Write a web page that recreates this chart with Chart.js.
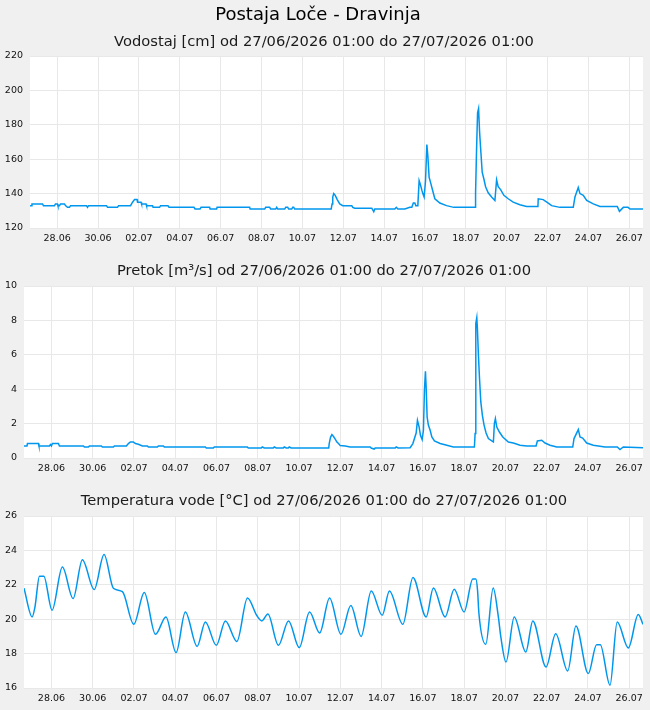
<!DOCTYPE html>
<html><head><meta charset="utf-8">
<script src="https://cdn.jsdelivr.net/npm/chart.js@4/dist/chart.umd.min.js"></script>
<style>
html,body{margin:0;padding:0;background:#f0f0f0;}
#wrap{position:relative;width:650px;height:710px;background:#f0f0f0;}
canvas{position:absolute;left:0;}
</style></head><body>
<div id="wrap">
<canvas id="c1" width="650" height="250" style="top:0px"></canvas>
<canvas id="c2" width="650" height="230" style="top:250px"></canvas>
<canvas id="c3" width="650" height="230" style="top:480px"></canvas>
</div>
<script>
// ---- text ----
const mainTitle = "Postaja Loče - Dravinja";
const panelTitles = [
  "Vodostaj [cm] od 27/06/2026 01:00 do 27/07/2026 01:00",
  "Pretok [m³/s] od 27/06/2026 01:00 do 27/07/2026 01:00",
  "Temperatura vode [°C] od 27/06/2026 01:00 do 27/07/2026 01:00"
];
// x axis: days since 27.06 00:00
const tickDays = [1,3,5,7,9,11,13,15,17,19,21,23,25,27,29];
const tickLabels = ["28.06","30.06","02.07","04.07","06.07","08.07","10.07","12.07","14.07","16.07","18.07","20.07","22.07","24.07","26.07"];

// ---- Vodostaj [cm] ----
const vodostajDays = [-0.33,-0.259,-0.234,0.280,0.329,0.868,0.917,1.015,1.039,1.113,1.162,1.358,1.407,1.504,1.603,1.652,2.435,2.484,2.533,3.415,3.464,3.954,4.003,4.591,4.689,4.787,4.909,4.934,5.105,5.130,5.350,5.374,5.668,5.693,6.011,6.060,6.423,6.472,7.697,7.746,7.992,8.042,8.461,8.485,8.803,8.828,10.420,10.444,11.155,11.204,11.400,11.449,11.694,11.743,11.792,12.135,12.184,12.282,12.331,12.478,12.527,12.576,12.625,14.412,14.452,14.486,14.535,14.608,14.706,14.829,14.976,15.417,15.466,15.564,16.397,16.494,16.543,17.523,17.597,17.670,18.013,18.258,18.356,18.430,18.503,18.552,18.650,18.714,18.782,18.846,18.895,18.959,19.027,19.091,19.140,19.203,19.272,19.350,19.483,19.728,20.055,20.413,21.456,21.476,21.525,21.574,21.623,21.672,21.736,21.800,21.883,21.966,22.094,22.260,22.422,22.505,22.583,22.701,22.862,23.073,23.318,23.646,23.974,24.528,24.543,24.787,25.032,25.199,25.605,26.257,26.340,26.502,26.585,26.747,26.913,27.237,27.565,28.412,28.518,28.707,28.937,29.035,29.67];
const vodostajValues = [133,133,134,134,133,133,134,134,133,133,134,134,133,132,132,133,133,132,133,133,132,132,133,133,135,136.5,136.5,135,135,134,134,133,133,132,132,133,133,132,132,131,131,132,132,131,131,132,132,131,131,132,132,131,131,132,131,131,132,132,131,131,132,132,131,131,134,138,140,139,136.5,134,133,133,132,131.5,131.5,129.5,131,131,132,131,131,132,132,134.5,134.5,133,133,147.5,145,142,140,138,147.5,168.5,162,149.5,146.5,143,137,134.5,133,132,132,140,166,187,189.5,176,164,152.5,148.5,144,140.5,138,136,148,144,142.3,139,137,135,133.5,132.5,132.5,137,136.5,134.5,133,132,132,138,143.5,140,139,136,134,132.5,132.5,129.7,132,132,131,131];

// ---- Pretok [m3/s] ----
const pretokDays = [-0.33,-0.186,-0.162,0.370,0.395,0.903,0.952,1.000,1.048,1.339,1.387,2.550,2.598,2.792,2.840,3.421,3.470,4.002,4.051,4.632,4.729,4.826,4.971,5.068,5.213,5.407,5.649,5.697,6.133,6.182,6.424,6.472,8.458,8.506,8.845,8.893,10.492,10.540,11.169,11.218,11.315,11.751,11.799,11.896,12.235,12.283,12.380,12.477,12.525,12.622,14.438,14.462,14.525,14.593,14.671,14.753,14.835,14.913,14.995,15.237,15.479,16.448,16.496,16.642,16.690,17.659,17.707,17.804,18.385,18.516,18.676,18.739,18.821,18.884,18.966,19.029,19.077,19.126,19.160,19.208,19.271,19.354,19.436,19.562,19.838,20.162,20.482,21.499,21.533,21.567,21.615,21.644,21.693,21.741,21.809,21.886,21.969,22.065,22.177,22.341,22.419,22.467,22.516,22.584,22.710,22.874,23.145,23.387,23.712,24.036,24.487,24.550,24.763,24.923,25.165,25.489,26.264,26.327,26.535,26.617,26.746,26.941,27.261,27.586,27.828,28.424,28.554,28.714,29.67];
const pretokValues = [0.70,0.70,0.84,0.84,0.70,0.70,0.78,0.70,0.84,0.84,0.70,0.70,0.64,0.64,0.70,0.70,0.64,0.64,0.70,0.70,0.84,0.93,0.93,0.84,0.80,0.70,0.70,0.64,0.64,0.70,0.70,0.64,0.64,0.58,0.58,0.64,0.64,0.58,0.58,0.64,0.58,0.58,0.64,0.58,0.58,0.64,0.58,0.58,0.64,0.58,0.58,0.84,1.20,1.36,1.25,1.10,0.93,0.84,0.72,0.70,0.64,0.64,0.58,0.52,0.58,0.58,0.64,0.58,0.60,0.84,1.45,2.19,1.80,1.32,1.07,1.61,3.94,5.04,4.13,2.38,1.90,1.61,1.22,0.99,0.84,0.74,0.64,0.64,1.42,7.81,8.16,7.52,6.01,4.75,3.26,2.48,1.90,1.45,1.13,0.99,0.93,2.00,2.29,1.80,1.51,1.22,0.93,0.87,0.74,0.70,0.70,0.99,1.03,0.87,0.74,0.64,0.64,1.13,1.65,1.22,1.16,0.87,0.74,0.68,0.64,0.64,0.49,0.64,0.60];

// ---- Temperatura vode [°C] ----
const tempDays = [-0.33,0.065,0.20,0.42,0.63,1.03,1.53,2.05,2.50,3.07,3.55,4.00,4.44,4.99,5.50,6.04,6.55,7.04,7.49,8.06,8.46,8.99,9.43,9.99,10.50,10.96,11.20,11.49,12.00,12.49,13.01,13.51,14.00,14.48,15.03,15.51,16.01,16.50,17.03,17.38,18.03,18.52,19.16,19.51,20.08,20.52,21.00,21.42,21.57,21.65,21.72,22.05,22.41,22.66,22.78,23.03,23.43,23.99,24.33,24.97,25.44,26.02,26.42,27.02,27.42,27.60,28.07,28.42,28.96,29.44,29.67];
const tempValues = [21.8,20.13,20.7,22.5,22.5,20.52,23.03,21.2,23.46,21.72,23.76,21.8,21.6,19.7,21.55,19.12,20.13,18.06,20.42,18.42,19.84,18.48,19.9,18.71,21.23,20.2,19.9,20.3,18.48,19.9,18.35,20.42,19.2,21.23,19.12,20.8,19.0,21.64,20.23,21.64,19.7,22.42,20.13,21.81,20.13,21.74,20.42,22.34,22.34,21.7,20.3,18.54,21.81,20.13,18.97,17.51,20.13,18.09,19.9,17.22,19.16,16.99,19.6,16.84,18.52,18.52,16.16,19.84,18.33,20.27,19.7];

const LINE = '#0096ee';
const GRID = '#e8e8e8';
const FONT = "'DejaVu Sans', sans-serif";

const bgPlugin = {
  id: 'plotBg',
  beforeDraw(chart) {
    const {ctx, chartArea: a} = chart;
    ctx.save();
    ctx.fillStyle = '#ffffff';
    ctx.fillRect(a.left, a.top, a.right - a.left, a.bottom - a.top);
    ctx.restore();
  }
};
const textPlugin = {
  id: 'panelText',
  afterDraw(chart, args, opts) {
    const ctx = chart.ctx;
    ctx.save();
    ctx.textAlign = 'center';
    ctx.textBaseline = 'alphabetic';
    (opts.lines || []).forEach(l => {
      ctx.fillStyle = l.color || '#000';
      ctx.font = l.font;
      ctx.fillText(l.text, l.x, l.y);
    });
    ctx.restore();
  }
};

function pts(xs, ys) { return xs.map((x, i) => ({x: x, y: ys[i]})); }

function makePanel(id, data, yMin, yMax, yStep, yWidth, padTop, lines, smooth) {
  return new Chart(document.getElementById(id), {
    type: 'line',
    data: { datasets: [{
      data: data,
      borderColor: LINE,
      borderWidth: 1.5,
      pointRadius: 0,
      fill: false,
      tension: 0,
      cubicInterpolationMode: smooth ? 'monotone' : 'default'
    }]},
    options: {
      responsive: false,
      animation: false,
      events: [],
      layout: { padding: { top: padTop, right: 7, left: 0, bottom: 0 } },
      plugins: { legend: { display: false }, tooltip: { enabled: false }, panelText: { lines: lines } },
      scales: {
        x: {
          type: 'linear', min: -0.33, max: 29.67,
          afterBuildTicks(s) { s.ticks = tickDays.map(v => ({value: v})); },
          afterFit(s) { s.height = 22; },
          grid: { color: GRID, drawTicks: false, lineWidth: 1 },
          border: { display: false },
          ticks: {
            autoSkip: false, maxRotation: 0, padding: 5, color: '#111',
            font: { family: FONT, size: 9.5 },
            callback(v) { const i = tickDays.indexOf(v); return i >= 0 ? tickLabels[i] : ''; }
          }
        },
        y: {
          min: yMin, max: yMax,
          afterFit(s) { s.width = yWidth; },
          grid: { color: GRID, drawTicks: false, lineWidth: 1 },
          border: { display: false },
          ticks: { stepSize: yStep, padding: 7, color: '#111', font: { family: FONT, size: 9.5 } }
        }
      }
    },
    plugins: [bgPlugin, textPlugin]
  });
}

const SUBFONT = "14.7px " + FONT;
makePanel('c1', pts(vodostajDays, vodostajValues), 120, 220, 20, 30, 56, [
  { text: mainTitle, x: 318, y: 20, font: "18px " + FONT },
  { text: panelTitles[0], x: 324, y: 46, font: SUBFONT, color: '#1a1a1a' }
], false);
makePanel('c2', pts(pretokDays, pretokValues), 0, 10, 2, 24, 36, [
  { text: panelTitles[1], x: 324, y: 25, font: SUBFONT, color: '#1a1a1a' }
], false);
makePanel('c3', pts(tempDays, tempValues), 16, 26, 2, 24, 36, [
  { text: panelTitles[2], x: 324, y: 25, font: SUBFONT, color: '#1a1a1a' }
], true);
</script>
</body></html>
